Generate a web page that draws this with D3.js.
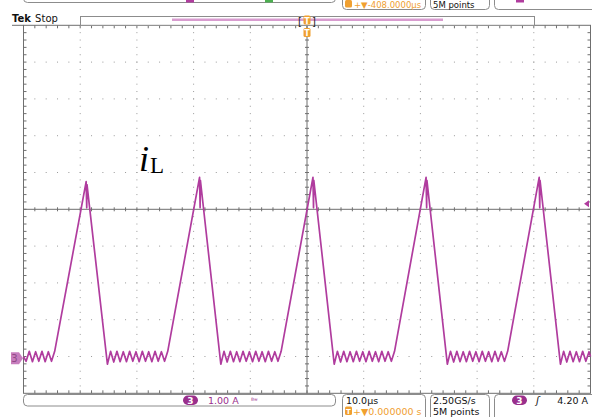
<!DOCTYPE html>
<html>
<head>
<meta charset="utf-8">
<script src="https://cdn.jsdelivr.net/npm/d3@7"></script>
<style>
  html, body { margin: 0; padding: 0; background: #ffffff; }
  svg { display: block; }
  text { font-family: "DejaVu Sans", sans-serif; }
</style>
</head>
<body>
<svg id="scope" width="592" height="417"></svg>
<script>
// ---- acquisition settings ----
const timePerDiv = 10.0;      // µs / div
const ampsPerDiv = 1.00;      // A / div (channel 3)
const ch3OffsetDiv = -4.05;   // ground marker position, divisions from centre
const triggerLevel = 4.20;    // A
const hDivs = 10, vDivs = 10, minorPerDiv = 5;

// ---- inductor current i_L, channel 3 ----
const timeUs = [
  -50.00, -49.54, -48.98, -48.42, -47.86, -47.30, -46.74, -46.18, -45.62, -45.06, -44.50,
  -38.95, -38.85, -38.80, -35.20,
  -34.64, -34.08, -33.52, -32.96, -32.40, -31.84, -31.28, -30.72, -30.16, -29.60,
  -29.04, -28.48, -27.92, -27.36, -26.80, -26.24, -25.68, -25.12, -24.56,
  -18.95, -18.85, -18.80, -15.20,
  -14.64, -14.08, -13.52, -12.96, -12.40, -11.84, -11.28, -10.72, -10.16, -9.60,
  -9.04, -8.48, -7.92, -7.36, -6.80, -6.24, -5.68, -5.12, -4.56,
  1.05, 1.15, 1.20, 4.80,
  5.36, 5.92, 6.48, 7.04, 7.60, 8.16, 8.72, 9.28, 9.84, 10.40,
  10.96, 11.52, 12.08, 12.64, 13.20, 13.76, 14.32, 14.88, 15.44,
  21.00, 21.10, 21.15, 24.75,
  25.31, 25.87, 26.43, 26.99, 27.55, 28.11, 28.67, 29.23, 29.79, 30.35,
  30.91, 31.47, 32.03, 32.59, 33.15, 33.71, 34.27, 34.83, 35.39,
  40.95, 41.05, 41.10, 44.70,
  45.26, 45.82, 46.38, 46.94, 47.50, 48.06, 48.62, 49.18, 49.74, 50.00
];
const currentA = [
  0.05, -0.08, 0.19, -0.09, 0.18, -0.08, 0.19, -0.09, 0.18, -0.08, 0.19,
  4.80, 4.09, 4.72, -0.16,
  0.19, -0.10, 0.19, -0.09, 0.18, -0.09, 0.19, -0.08, 0.18, -0.09,
  0.19, -0.08, 0.18, -0.09, 0.19, -0.08, 0.18, -0.08, 0.19,
  4.92, 4.09, 4.84, -0.16,
  0.19, -0.10, 0.19, -0.09, 0.18, -0.09, 0.19, -0.08, 0.18, -0.09,
  0.19, -0.08, 0.18, -0.09, 0.19, -0.08, 0.18, -0.08, 0.19,
  4.92, 4.09, 4.84, -0.16,
  0.19, -0.10, 0.19, -0.09, 0.18, -0.09, 0.19, -0.08, 0.18, -0.09,
  0.19, -0.08, 0.18, -0.09, 0.19, -0.08, 0.18, -0.08, 0.19,
  4.92, 4.09, 4.84, -0.16,
  0.19, -0.10, 0.19, -0.09, 0.18, -0.09, 0.19, -0.08, 0.18, -0.09,
  0.19, -0.08, 0.18, -0.09, 0.19, -0.08, 0.18, -0.08, 0.19,
  4.92, 4.09, 4.84, -0.16,
  0.19, -0.10, 0.19, -0.09, 0.18, -0.09, 0.19, -0.08, 0.18, 0.05
];

// ---- readout labels ----
const ch3ScaleLabel = "1.00 A";
const timebaseLabel = "10.0µs";
const delayLabel = "0.000000 s";
const topDelayLabel = "-408.0000µs";
const sampleRateLabel = "2.50GS/s";
const recordLabel = "5M points";
const triggerLabel = "4.20 A";

// ---- colours ----
const traceColor = "#b03c9e";
const ch3Fill = "#9a2f8c";
const gridColor = "#6f6f6f";
const dotColor = "#9a9a9a";
const orange = "#f0a030";
const boxStroke = "#8c8c8c";

const svg = d3.select("#scope");
const plot = { left: 23.5, right: 590.5, top: 25.3, bottom: 393.3 };

const x = d3.scaleLinear()
  .domain([-hDivs / 2 * timePerDiv, hDivs / 2 * timePerDiv])
  .range([plot.left, plot.right]);
const y = d3.scaleLinear()
  .domain([(-vDivs / 2 - ch3OffsetDiv) * ampsPerDiv, (vDivs / 2 - ch3OffsetDiv) * ampsPerDiv])
  .range([plot.bottom, plot.top]);

// division positions in data units
const xMajor = d3.range(0, hDivs + 1).map(i => x.domain()[0] + i * timePerDiv);
const yMajor = d3.range(0, vDivs + 1).map(i => y.domain()[0] + i * ampsPerDiv);
const xMinor = d3.range(0, hDivs * minorPerDiv + 1).map(i => x.domain()[0] + i * timePerDiv / minorPerDiv);
const yMinor = d3.range(0, vDivs * minorPerDiv + 1).map(i => y.domain()[0] + i * ampsPerDiv / minorPerDiv);
const xCentre = 0;
const yCentre = (y.domain()[0] + y.domain()[1]) / 2;

const grid = svg.append("g");

// dotted division lines
xMajor.slice(1, -1).forEach(t => {
  if (Math.abs(t - xCentre) < 1e-9) return;
  grid.selectAll(null).data(yMinor.slice(1, -1)).enter().append("rect")
    .attr("x", x(t) - 0.5).attr("y", d => y(d) - 0.5)
    .attr("width", 1).attr("height", 1).attr("fill", dotColor);
});
yMajor.slice(1, -1).forEach(v => {
  if (Math.abs(v - yCentre) < 1e-9) return;
  grid.selectAll(null).data(xMinor.slice(1, -1)).enter().append("rect")
    .attr("x", d => x(d) - 0.5).attr("y", y(v) - 0.5)
    .attr("width", 1).attr("height", 1).attr("fill", dotColor);
});

// frame
grid.append("rect")
  .attr("x", plot.left).attr("y", plot.top)
  .attr("width", plot.right - plot.left).attr("height", plot.bottom - plot.top)
  .attr("fill", "none").attr("stroke", gridColor).attr("stroke-width", 1);

// centre cross
grid.append("line").attr("x1", plot.left).attr("x2", plot.right)
  .attr("y1", y(yCentre)).attr("y2", y(yCentre)).attr("stroke", gridColor);
grid.append("line").attr("x1", x(xCentre)).attr("x2", x(xCentre))
  .attr("y1", plot.top).attr("y2", plot.bottom).attr("stroke", gridColor);

// minor ticks on frame and centre lines
const tk = 3;
grid.selectAll(null).data(xMinor.slice(1, -1)).enter().append("path")
  .attr("d", d => {
    const px = x(d);
    const yc = y(yCentre);
    return `M${px},${plot.top}v${tk}M${px},${plot.bottom}v${-tk}M${px},${yc - 2}v4`;
  })
  .attr("stroke", gridColor).attr("stroke-width", 1);
grid.selectAll(null).data(yMinor.slice(1, -1)).enter().append("path")
  .attr("d", d => {
    const py = y(d);
    const xc = x(xCentre);
    return `M${plot.left},${py}h${tk}M${plot.right},${py}h${-tk}M${xc - 2},${py}h4`;
  })
  .attr("stroke", gridColor).attr("stroke-width", 1);

// ---- trace ----
const points = timeUs.map((t, i) => [t, currentA[i]]);
svg.append("path")
  .datum(points)
  .attr("d", d3.line().x(d => x(d[0])).y(d => y(d[1])))
  .attr("fill", "none")
  .attr("stroke", traceColor)
  .attr("stroke-width", 1.7)
  .attr("stroke-linejoin", "round");

// ---- trace label i_L ----
const lbl = svg.append("text")
  .attr("x", 139).attr("y", 171)
  .style("font-family", "'Liberation Serif', 'DejaVu Serif', serif")
  .attr("fill", "#000");
lbl.append("tspan").attr("font-style", "italic").attr("font-size", 36).text("i");
lbl.append("tspan").attr("font-size", 23).attr("dx", 1).attr("dy", 2).text("L");

// ---- channel 3 ground marker ----
const gy = y(0);
svg.append("path")
  .attr("d", `M11,${gy - 6}h8l4,6l-4,6h-8z`)
  .attr("fill", "#c77dbd");
svg.append("text").attr("x", 14.5).attr("y", gy + 4)
  .attr("font-size", 10).attr("text-anchor", "middle").attr("fill", "#8f4a86").text("3");

// trigger level marker
const ty = y(triggerLevel);
svg.append("path")
  .attr("d", `M584,${ty}l5,-3.5v7z`)
  .attr("fill", traceColor);

// ---- top status area ----
svg.append("text").attr("x", 12).attr("y", 22).attr("font-size", 10)
  .attr("fill", "#111")
  .call(t => {
    t.append("tspan").attr("font-weight", "bold").text("Tek");
    t.append("tspan").attr("dx", 1).text(" Stop");
  });
svg.append("line").attr("x1", 12).attr("x2", plot.left).attr("y1", plot.top).attr("y2", plot.top)
  .attr("stroke", gridColor);

// record view bar
svg.append("rect").attr("x", 80.5).attr("y", 16.5).attr("width", 454).attr("height", 8.8)
  .attr("fill", "#fff").attr("stroke", boxStroke);
svg.append("line").attr("x1", 172).attr("x2", 443).attr("y1", 19.8).attr("y2", 19.8)
  .attr("stroke", "#d89ccf").attr("stroke-width", 2.5);
svg.append("text").attr("x", x(0) - 9).attr("y", 24.5).attr("font-size", 10).attr("fill", "#222").text("[");
svg.append("text").attr("x", x(0) + 5).attr("y", 24.5).attr("font-size", 10).attr("fill", "#222").text("]");

function tIcon(cx, cy) {
  svg.append("rect").attr("x", cx - 3.5).attr("y", cy - 4.5).attr("width", 7).attr("height", 9)
    .attr("rx", 1.5).attr("fill", orange);
  svg.append("text").attr("x", cx).attr("y", cy + 3.5).attr("font-size", 8).attr("font-weight", "bold")
    .attr("text-anchor", "middle").attr("fill", "#fff").text("T");
}
tIcon(x(0), 20);
tIcon(x(0), 32.5);

// partially visible boxes at the top edge
function rbox(x0, y0, w, h) {
  svg.append("rect").attr("x", x0).attr("y", y0).attr("width", w).attr("height", h)
    .attr("rx", 4).attr("fill", "none").attr("stroke", boxStroke);
}
rbox(23.5, -20, 312, 22.5);
svg.append("rect").attr("x", 186).attr("y", 0).attr("width", 8).attr("height", 2.5).attr("fill", traceColor);
svg.append("rect").attr("x", 265).attr("y", 0).attr("width", 8).attr("height", 2.5).attr("fill", "#4caf50");
rbox(342.5, -12, 83, 21.5);
rbox(430.5, -12, 59, 21.5);
rbox(494.5, -12, 105, 21.5);
svg.append("rect").attr("x", 516).attr("y", 0).attr("width", 8).attr("height", 2.5).attr("fill", traceColor);

svg.append("rect").attr("x", 345).attr("y", 0).attr("width", 7).attr("height", 7.5).attr("rx", 1.5).attr("fill", orange);
svg.append("text").attr("x", 354).attr("y", 8).attr("font-size", 8.5).attr("fill", orange)
  .text("+▼" + topDelayLabel);
svg.append("text").attr("x", 433).attr("y", 8).attr("font-size", 8.5).attr("fill", "#111").text(recordLabel);

// ---- bottom readouts ----
rbox(23.5, 394.5, 312, 11.5);
svg.append("rect").attr("x", 183).attr("y", 395.5).attr("width", 15).attr("height", 9.5).attr("rx", 4.75).attr("fill", ch3Fill);
svg.append("text").attr("x", 190.5).attr("y", 403.5).attr("font-size", 9).attr("font-weight", "bold")
  .attr("text-anchor", "middle").attr("fill", "#fff").text("3");
svg.append("text").attr("x", 208).attr("y", 404).attr("font-size", 9.5).attr("fill", ch3Fill).text(ch3ScaleLabel);
svg.append("text").attr("x", 251).attr("y", 403).attr("font-size", 7).attr("fill", ch3Fill).text("ᴮʷ");

rbox(342.5, 394.5, 83, 30);
svg.append("text").attr("x", 346).attr("y", 404).attr("font-size", 9.5).attr("fill", "#111").text(timebaseLabel);
svg.append("rect").attr("x", 345).attr("y", 406.5).attr("width", 7).attr("height", 8.5).attr("rx", 1.5).attr("fill", orange);
svg.append("text").attr("x", 348.5).attr("y", 413.5).attr("font-size", 7).attr("font-weight", "bold")
  .attr("text-anchor", "middle").attr("fill", "#fff").text("T");
svg.append("text").attr("x", 353).attr("y", 414.5).attr("font-size", 9.5).attr("fill", orange).text("+▼" + delayLabel);

rbox(430.5, 394.5, 59, 30);
svg.append("text").attr("x", 433).attr("y", 404).attr("font-size", 9.5).attr("fill", "#111").text(sampleRateLabel);
svg.append("text").attr("x", 433).attr("y", 414.5).attr("font-size", 9.5).attr("fill", "#111").text(recordLabel);

rbox(494.5, 394.5, 105, 30);
svg.append("rect").attr("x", 512).attr("y", 395.5).attr("width", 15).attr("height", 9.5).attr("rx", 4.75).attr("fill", ch3Fill);
svg.append("text").attr("x", 519.5).attr("y", 403.5).attr("font-size", 9).attr("font-weight", "bold")
  .attr("text-anchor", "middle").attr("fill", "#fff").text("3");
svg.append("text").attr("x", 536).attr("y", 404).attr("font-size", 10).attr("font-style", "italic")
  .attr("fill", "#111").text("ʃ");
svg.append("text").attr("x", 588).attr("y", 404).attr("font-size", 9.5).attr("text-anchor", "end")
  .attr("fill", "#111").text(triggerLabel);
</script>
</body>
</html>
